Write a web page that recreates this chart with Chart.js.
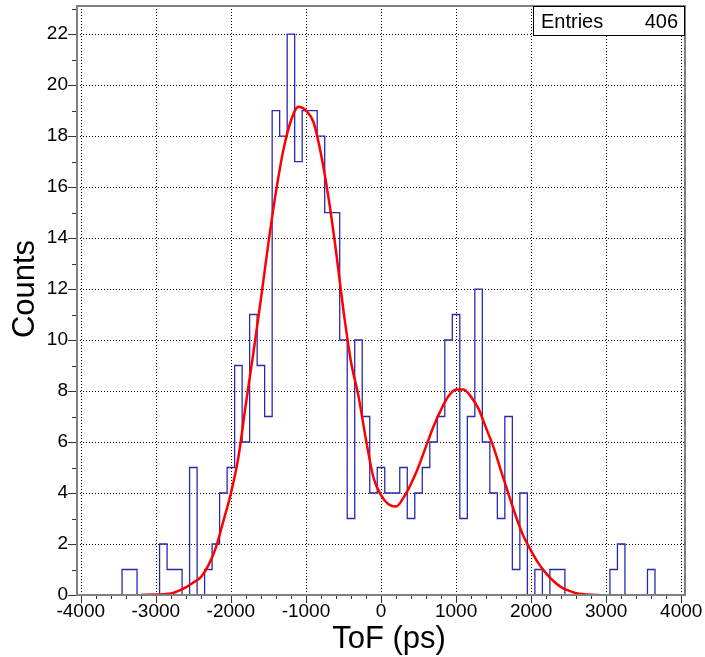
<!DOCTYPE html>
<html>
<head>
<meta charset="utf-8">
<script src="https://cdn.jsdelivr.net/npm/chart.js@4.4.1/dist/chart.umd.min.js"></script>
<style>
  html, body { margin: 0; padding: 0; background: #fff; }
  #wrap { width: 705px; height: 657px; }
</style>
</head>
<body>
<div id="wrap"><canvas id="tof" width="705" height="657"></canvas></div>
<script>
// histogram: 100 ps bins, first bin starts at -3450 ps
const binStart = -3450;
const binWidth = 100;
const counts = [
  1, 1, 0, 0, 0, 2, 1, 1, 0, 5,
  0, 1, 2, 4, 5, 9, 6, 11, 9, 7,
  19, 18, 22, 17, 19, 19, 18, 15, 15, 10,
  3, 10, 7, 4, 5, 4, 4, 5, 3, 4,
  5, 6, 7, 10, 11, 3, 7, 12, 6, 4,
  3, 7, 1, 4, 0, 1, 0, 1, 1, 0,
  0, 0, 0, 0, 0, 1, 2, 0, 0, 0,
  1
];

// fit curve (double gaussian)
const fitX = [-3200, -3000, -2800, -2600, -2500, -2400, -2300, -2200, -2100, -2000,
  -1900, -1800, -1700, -1600, -1500, -1400, -1300, -1200, -1100, -1000,
  -900, -800, -700, -600, -500, -400, -300, -200, -100, 0,
  100, 200, 300, 400, 500, 600, 700, 800, 900, 1000,
  1100, 1200, 1300, 1400, 1500, 1600, 1700, 1800, 1900, 2000,
  2100, 2200, 2300, 2400, 2500, 2600, 2700, 2800, 2900];
const fitY = [0, 0.02, 0.06, 0.3, 0.49, 0.7, 1.16, 1.86, 2.9, 3.98,
  5.4, 7.5, 9.5, 11.6, 13.8, 15.8, 17.46, 18.6, 19.15, 19.0,
  18.55, 17.3, 15.6, 13.5, 11.15, 9.15, 7.8, 6.09, 4.6, 3.92,
  3.56, 3.47, 3.82, 4.36, 5.03, 5.83, 6.61, 7.27, 7.8, 8.06,
  8.06, 7.77, 7.3, 6.55, 5.79, 4.86, 3.95, 3.06, 2.29, 1.73,
  1.23, 0.85, 0.54, 0.31, 0.17, 0.07, 0.03, 0.01, 0];

const xTicks = [-4000, -3000, -2000, -1000, 0, 1000, 2000, 3000, 4000];
const yTicks = [0, 2, 4, 6, 8, 10, 12, 14, 16, 18, 20, 22];

const entries = 406;
const xTitle = "ToF (ps)";
const yTitle = "Counts";

const FONT = "'Liberation Sans', Arial, sans-serif";
Chart.defaults.font.family = FONT;

// outline of the histogram as a step line (value holds until the next edge)
const histPoints = [{ x: binStart - binWidth, y: 0 }];
counts.forEach((c, i) => histPoints.push({ x: binStart + i * binWidth, y: c }));
histPoints.push({ x: binStart + counts.length * binWidth, y: 0 });

const fitPoints = fitX.map((x, i) => ({ x: x, y: fitY[i] }));

// dotted grid, ROOT-like frame + minor ticks, stats box and axis titles
const rootFrame = {
  id: "rootFrame",
  beforeDatasetsDraw(chart) {
    const { ctx, chartArea: a, scales: { x, y } } = chart;
    ctx.save();
    ctx.strokeStyle = "#000";
    ctx.lineWidth = 1;
    ctx.setLineDash([1, 2]);
    ctx.beginPath();
    x.ticks.forEach((t) => {
      const px = Math.round(x.getPixelForValue(t.value)) + 0.5;
      ctx.moveTo(px, a.top);
      ctx.lineTo(px, a.bottom);
    });
    y.ticks.forEach((t) => {
      const py = Math.round(y.getPixelForValue(t.value)) + 0.5;
      ctx.moveTo(a.left, py);
      ctx.lineTo(a.right, py);
    });
    ctx.stroke();
    ctx.restore();
  },
  afterDraw(chart) {
    const { ctx, chartArea: a, scales: { x, y } } = chart;
    ctx.save();

    // tick marks (outside)
    ctx.strokeStyle = "#333";
    ctx.lineWidth = 1;
    ctx.beginPath();
    for (let v = 0; v <= 23; v++) {
      const py = Math.round(y.getPixelForValue(v)) + 0.5;
      const len = v % 2 === 0 ? 9 : 5;
      ctx.moveTo(a.left - len, py);
      ctx.lineTo(a.left, py);
    }
    for (let v = -4000; v <= 4000; v += 200) {
      const px = Math.round(x.getPixelForValue(v)) + 0.5;
      const len = v % 1000 === 0 ? 8 : 4;
      ctx.moveTo(px, a.bottom);
      ctx.lineTo(px, a.bottom + len);
    }
    ctx.stroke();

    // frame
    ctx.strokeStyle = "#808080";
    ctx.lineWidth = 2;
    ctx.strokeRect(a.left, a.top, a.right - a.left, a.bottom - a.top);

    // stats box
    const bw = 152, bh = 30;
    ctx.fillStyle = "#fff";
    ctx.fillRect(a.right - bw, a.top, bw, bh);
    ctx.strokeStyle = "#000";
    ctx.lineWidth = 1;
    ctx.strokeRect(a.right - bw + 0.5, a.top + 0.5, bw - 1, bh - 1);
    ctx.fillStyle = "#000";
    ctx.font = "20px " + FONT;
    ctx.textBaseline = "alphabetic";
    ctx.textAlign = "left";
    ctx.fillText("Entries", a.right - bw + 8, a.top + 22);
    ctx.textAlign = "right";
    ctx.fillText(String(entries), a.right - 7, a.top + 22);

    // axis titles
    ctx.font = "31px " + FONT;
    ctx.textAlign = "center";
    ctx.fillText(xTitle, 389, 648);
    ctx.translate(34, 289);
    ctx.rotate(-Math.PI / 2);
    ctx.fillText(yTitle, 0, 0);
    ctx.restore();
  }
};

new Chart(document.getElementById("tof"), {
  type: "line",
  data: {
    datasets: [
      {
        label: "fit",
        data: fitPoints,
        borderColor: "#ff0000",
        borderWidth: 2.5,
        pointRadius: 0,
        cubicInterpolationMode: "monotone",
        fill: false
      },
      {
        label: "ToF",
        data: histPoints,
        borderColor: "#2a2aae",
        borderWidth: 1.3,
        pointRadius: 0,
        stepped: "before",
        fill: false
      }
    ]
  },
  options: {
    responsive: false,
    animation: false,
    events: [],
    layout: { padding: { top: 6, right: 20, bottom: 0, left: 0 } },
    plugins: { legend: { display: false }, tooltip: { enabled: false } },
    scales: {
      x: {
        type: "linear",
        min: -4050,
        max: 4050,
        grid: { display: false, drawTicks: false },
        border: { display: false },
        afterBuildTicks: (s) => { s.ticks = xTicks.map((v) => ({ value: v })); },
        ticks: {
          autoSkip: false,
          maxRotation: 0,
          padding: 5,
          color: "#000",
          font: { size: 19 },
          callback: (v) => String(v)
        },
        afterFit: (s) => {
          s.height = 62;
          s.paddingLeft = 0;
          s.paddingRight = 0;
        }
      },
      y: {
        type: "linear",
        min: 0,
        max: 23.1,
        grid: { display: false, drawTicks: false },
        border: { display: false },
        afterBuildTicks: (s) => { s.ticks = yTicks.map((v) => ({ value: v })); },
        ticks: {
          autoSkip: false,
          padding: 9,
          color: "#000",
          font: { size: 19 },
          callback: (v) => String(v)
        },
        afterFit: (s) => {
          s.width = 77;
          s.paddingTop = 0;
          s.paddingBottom = 0;
        }
      }
    }
  },
  plugins: [rootFrame]
});
</script>
</body>
</html>
